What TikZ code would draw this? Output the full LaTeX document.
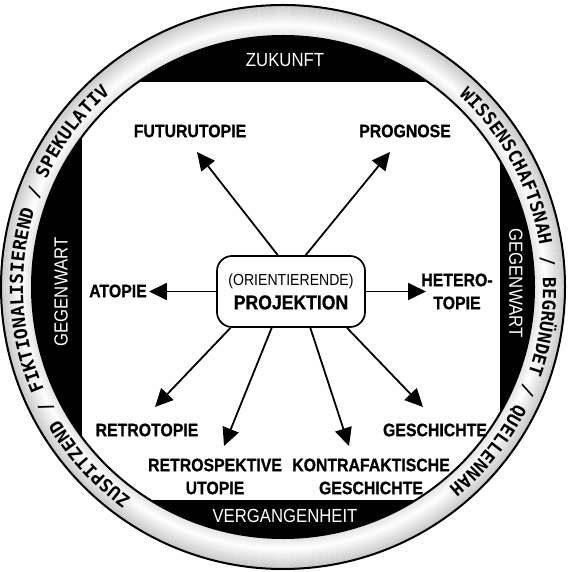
\documentclass[tikz,border=0pt]{standalone}
\usepackage{fontspec}
\setmainfont{Liberation Sans}
\newfontfamily\condfont[FakeStretch=0.88,BoldFeatures={FakeBold=0.8}]{Liberation Sans}
\newfontfamily\ringfont{DejaVu Sans Mono}
\usetikzlibrary{arrows.meta,positioning,calc,decorations.text}
\newcommand\ringtxt{\ringfont\bfseries\fontsize{18}{20}\selectfont}

\tikzset{
  lbl/.style={font=\condfont\bfseries\fontsize{18}{23}\selectfont, align=center, inner sep=0pt},
  band/.style={text=white, font=\condfont\fontsize{19}{20}\selectfont, inner sep=0pt},
  arr/.style={line width=1.8pt, -{Triangle[length=18pt,width=17pt]}},
  projbox/.style={draw, line width=1.7pt, rounded corners=15pt, fill=white,
    minimum width=148pt, minimum height=71pt, align=center, inner sep=0pt},
  ringtext/.style={decorate, decoration={text along path, text align=center, text={#1}}}
}

\begin{document}
\begin{tikzpicture}[x=1pt,y=1pt]
  \useasboundingbox (-283,-285) rectangle (284,287);
  % ring with soft shading
  \foreach \r in {251,...,282} {
    \pgfmathsetmacro\g{1.1*abs(\r-262)}
    \draw[black!\g, line width=1.3pt] (0,0) circle (\r);
  }
  \fill[black] (0,0) circle (251);
  \begin{scope}
    \clip (0,0) circle (251);
    \fill[white] (-201,-213) rectangle (217,205);
  \end{scope}
  \draw[line width=2pt] (0,0) circle (282);
  \draw[line width=2pt] (0,0) circle (251);

  \path[ringtext={|\ringtxt|ZUSPITZEND / FIKTIONALISIEREND / SPEKULATIV}]
    (240:260) arc[start angle=240, end angle=126, radius=260];
  \path[ringtext={|\ringtxt|WISSENSCHAFTSNAH / BEGRÜNDET / QUELLENNAH}]
    (52:260) arc[start angle=52, end angle=-55, radius=260];

  % time bands
  \node[band] (zuk) at (2,227) {ZUKUNFT};
  \node[band] (verg) at (2,-229) {VERGANGENHEIT};
  \node[band, rotate=90] (gegL) at (-222,-5) {GEGENWART};
  \node[band, rotate=-90] (gegR) at (233,4) {GEGENWART};

  % centre
  \node[projbox] (proj) at (8,-4.5)
    {{\condfont\fontsize{16}{18}\selectfont (ORIENTIERENDE)}\\[6pt]{\condfont\bfseries\fontsize{20}{22}\selectfont PROJEKTION}};

  \node[lbl] (futur) at (-93,156) {FUTURUTOPIE};
  \node[lbl] (prog) at (122,156) {PROGNOSE};
  \node[lbl] (atop) at (-165,-4) {ATOPIE};
  \node[lbl] (heter) at (174,-4.5) {HETERO-\\TOPIE};
  \node[lbl] (retro) at (-136,-143) {RETROTOPIE};
  \node[lbl] (gesch) at (152,-143) {GESCHICHTE};
  \node[lbl] (rspu) at (-68,-189.5) {RETROSPEKTIVE\\UTOPIE};
  \node[lbl] (kontra) at (88,-189.5) {KONTRAFAKTISCHE\\GESCHICHTE};

  % arrow tips
  \coordinate (tFutur) at (-86,135);
  \coordinate (tProg) at (107,135);
  \coordinate (tAtop) at (-134,-4.5);
  \coordinate (tHeter) at (143,-4.5);
  \coordinate (tRetro) at (-128,-120);
  \coordinate (tGesch) at (140,-120);
  \coordinate (tRspu) at (-59,-159);
  \coordinate (tKontra) at (66,-159);

  \draw[arr] (proj.110) -- (tFutur);
  \draw[arr] (proj.68.5) -- (tProg);
  \draw[arr] (proj.west) -- (tAtop);
  \draw[arr] (proj.east) -- (tHeter);
  \draw[arr] (proj.211) -- (tRetro);
  \draw[arr] (proj.242) -- (tRspu);
  \draw[arr] (proj.298) -- (tKontra);
  \draw[arr] (proj.327.6) -- (tGesch);
\end{tikzpicture}
\end{document}
